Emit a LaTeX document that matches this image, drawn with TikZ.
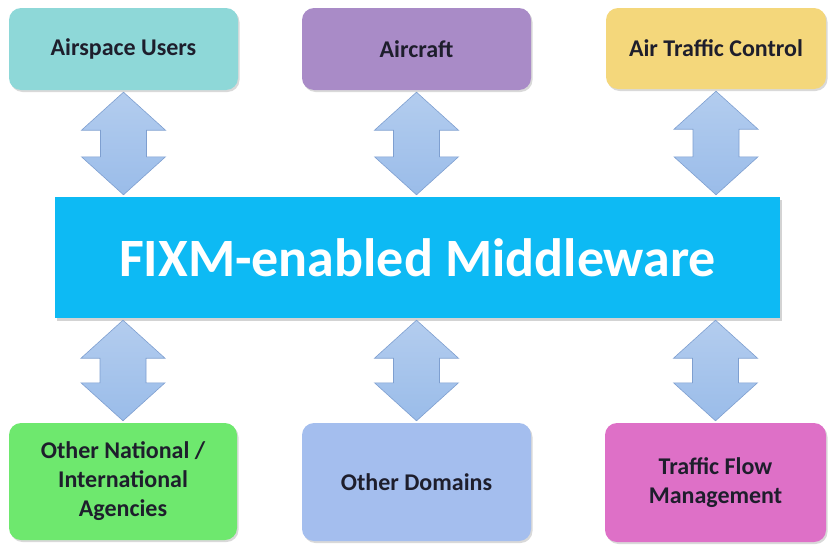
\documentclass[tikz,border=0pt]{standalone}
\usepackage{fontspec}
\setmainfont{Carlito}
\usepackage{tikz}
\usetikzlibrary{calc, shadows}
\definecolor{usercol}{HTML}{8ED8D8}
\definecolor{craftcol}{HTML}{A98BC7}
\definecolor{atccol}{HTML}{F4D77B}
\definecolor{mwcol}{HTML}{0DBAF4}
\definecolor{agencol}{HTML}{6EE86E}
\definecolor{domcol}{HTML}{A4BEEE}
\definecolor{tfmcol}{HTML}{DE70C7}
\definecolor{arrcol}{HTML}{9ABCE9}
\definecolor{arrline}{HTML}{7E9FD0}
\definecolor{txtcol}{HTML}{1E1E2C}
\tikzstyle{box} = [rectangle, rounded corners=12pt, inner sep=0pt, align=center, text=txtcol,
  font=\fontsize{24}{29}\selectfont\bfseries,
  drop shadow={opacity=0.3, shadow xshift=1.5pt, shadow yshift=-2pt}]
\tikzstyle{bar} = [rectangle, inner sep=0pt, fill=mwcol, text=white,
  font=\fontsize{54}{62}\selectfont\bfseries,
  drop shadow={opacity=0.35, shadow xshift=2pt, shadow yshift=-2.5pt}]
\tikzstyle{updown} = [draw=arrline, line width=0.6pt, top color=arrcol!75!white, bottom color=arrcol]
% block arrow pointing both ways, from #1 down to #2
\newcommand{\bothways}[2]{
  \path ($(#1)+(0,2)$) coordinate (t) ($(#2)+(0,-2)$) coordinate (b);
  \draw[updown] (t) -- ($(t)+(42,38)$) -- ($(t)+(23,38)$) -- ($(b)+(23,-38)$) -- ($(b)+(42,-38)$)
    -- (b) -- ($(b)+(-42,-38)$) -- ($(b)+(-23,-38)$) -- ($(t)+(-23,38)$) -- ($(t)+(-42,38)$) -- cycle;
}

\begin{document}
\begin{tikzpicture}[x=1pt,y=-1pt]
  \useasboundingbox (0,0) rectangle (829,546);
  \node[box, fill=usercol, minimum width=229pt, minimum height=82pt] (users) at (123.5,49) {Airspace Users};
  \node[box, fill=craftcol, minimum width=229pt, minimum height=82pt] (craft) at (416.5,49) {Aircraft};
  \node[box, fill=atccol, minimum width=220pt, minimum height=81pt] (atc) at (716,48.5) {Air Traffic Control};
  \node[bar, minimum width=725pt, minimum height=121pt] (mw) at (417.5,257.5) {FIXM-enabled Middleware};
  \node[box, fill=agencol, minimum width=228pt, minimum height=117pt] (agen) at (123,481.5) {Other National /\\International\\Agencies};
  \node[box, fill=domcol, minimum width=229pt, minimum height=118pt] (dom) at (416.5,482) {Other Domains};
  \node[box, fill=tfmcol, minimum width=221pt, minimum height=119pt] (tfm) at (715.5,482.5) {Traffic Flow\\Management};
%  top row to middleware
  \bothways{users.south}{users.south |- mw.north}
  \bothways{craft.south}{craft.south |- mw.north}
  \bothways{atc.south}{atc.south |- mw.north}
%  middleware to bottom row
  \bothways{agen.north |- mw.south}{agen.north}
  \bothways{dom.north |- mw.south}{dom.north}
  \bothways{tfm.north |- mw.south}{tfm.north}
\end{tikzpicture}
\end{document}
